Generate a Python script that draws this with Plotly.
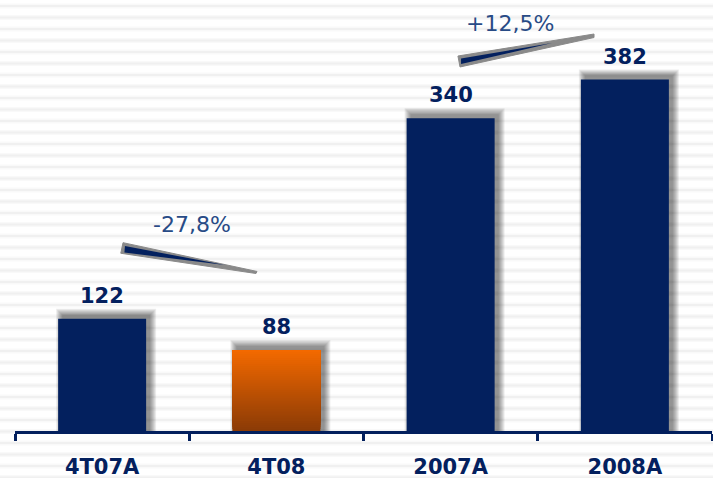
import plotly.graph_objects as go

# Quarterly and annual figures
categories = ["4T07A", "4T08", "2007A", "2008A"]
values = [122, 88, 340, 382]
highlight = "4T08"

# Change labels between the compared bars
change_labels = ["-27,8%", "+12,5%"]

NAVY = "#03205e"
TEXT_BLUE = "#284b86"
GREY = "#8a8a8a"
FONT = "Verdana, DejaVu Sans, sans-serif"

# layout geometry helpers (pixels per category / per value unit)
PX_CAT = 697 / 4
PX_UNIT = 0.92
BAR_W = 88 / PX_CAT
Y_MAX = 431 / PX_UNIT

fig = go.Figure()

# soft drop shadow behind every bar: stacked translucent rectangles
sh_dx, sh_dy = 4, 4
for e in range(7):
    w = (88 + 2 * e) / PX_CAT
    fig.add_trace(go.Bar(
        x=categories,
        y=[v + (sh_dy + e) / PX_UNIT for v in values],
        width=[w] * len(categories),
        offset=[(-44 + sh_dx - e) / PX_CAT] * len(categories),
        marker=dict(color="rgba(0,0,0,0.075)", line=dict(width=0)),
        hoverinfo="skip", showlegend=False,
    ))

# navy bars
plain = [(c, v) for c, v in zip(categories, values) if c != highlight]
fig.add_trace(go.Bar(
    x=[c for c, _ in plain], y=[v for _, v in plain],
    width=BAR_W, marker=dict(color=NAVY, line=dict(width=0)),
    showlegend=False,
))

# highlighted bar with a vertical orange gradient: each slice runs from its
# own base up to the bar top, so later slices cover the upper part seamlessly
hv = values[categories.index(highlight)]
n = 40
top_rgb = (244, 106, 0)
bot_rgb = (138, 58, 6)
cols, bases, heights = [], [], []
for i in range(n):
    t = (i + 0.5) / n  # 0 at bottom, 1 at top
    rgb = tuple(round(b + (a - b) * t) for a, b in zip(top_rgb, bot_rgb))
    cols.append("rgb(%d,%d,%d)" % rgb)
    base = hv * i / n
    bases.append(base)
    heights.append(hv - base)
fig.add_trace(go.Bar(
    x=[highlight] * n, y=heights, base=bases,
    width=BAR_W, marker=dict(color=cols, line=dict(width=0)),
    hoverinfo="skip", showlegend=False,
))

# value labels above the bars
for c, v in zip(categories, values):
    fig.add_annotation(x=c, y=v, text=str(v), showarrow=False,
                       yanchor="middle", yshift=23,
                       font=dict(family=FONT, size=21, color=NAVY, weight="bold"))

# change indicators: wedge outline + navy inner fill, with percentage text
wedges = [
    (
        [(0.120, 204.7), (0.889, 173.4), (0.883, 171.2), (0.107, 193.2)],
        [(0.131, 201.1), (0.705, 180.4), (0.128, 194.0)],
        (0.516, 224.0),
    ),
    (
        [(2.042, 407.6), (2.823, 431.5), (2.823, 427.7), (2.054, 395.7)],
        [(2.060, 404.9), (2.582, 421.7), (2.060, 398.9)],
        (2.341, 442.4),
    ),
]


def path(pts):
    return "M " + " L ".join("%g,%g" % p for p in pts) + " Z"


for label, (outer, inner, pos) in zip(change_labels, wedges):
    fig.add_shape(type="path", path=path(outer), xref="x", yref="y",
                  fillcolor=GREY, line=dict(color=GREY, width=1), layer="above")
    fig.add_shape(type="path", path=path(inner), xref="x", yref="y",
                  fillcolor=NAVY, line=dict(width=0), layer="above")
    fig.add_annotation(x=pos[0], y=pos[1], text=label, showarrow=False,
                       font=dict(family=FONT, size=22, color=TEXT_BLUE))

# faint striped background across the whole canvas
plot_h = 431
y = 6.0
while y < 480:
    yp = (plot_h - y) / plot_h
    fig.add_shape(type="line", xref="paper", yref="paper",
                  x0=-0.05, x1=1.05, y0=yp, y1=yp,
                  line=dict(color="#f9f9f9", width=5), layer="below")
    fig.add_shape(type="line", xref="paper", yref="paper",
                  x0=-0.05, x1=1.05, y0=yp, y1=yp,
                  line=dict(color="#f0f0f0", width=2), layer="below")
    y += 11.5

fig.update_layout(
    width=713, height=478,
    margin=dict(l=15, r=1, t=0, b=47),
    barmode="overlay",
    paper_bgcolor="white", plot_bgcolor="rgba(0,0,0,0)",
    showlegend=False,
    xaxis=dict(
        type="category", categoryorder="array", categoryarray=categories,
        range=[-0.5, 3.5], automargin=False,
        showline=True, linecolor=NAVY, linewidth=3,
        ticks="outside", tickson="boundaries", ticklen=7, tickwidth=3,
        tickcolor=NAVY, showgrid=False, zeroline=False,
        ticklabelstandoff=15,
        tickfont=dict(family=FONT, size=21, color=NAVY, weight="bold"),
    ),
    yaxis=dict(range=[0, Y_MAX], visible=False, showgrid=False,
               automargin=False),
)

fig.write_html("out.html")
